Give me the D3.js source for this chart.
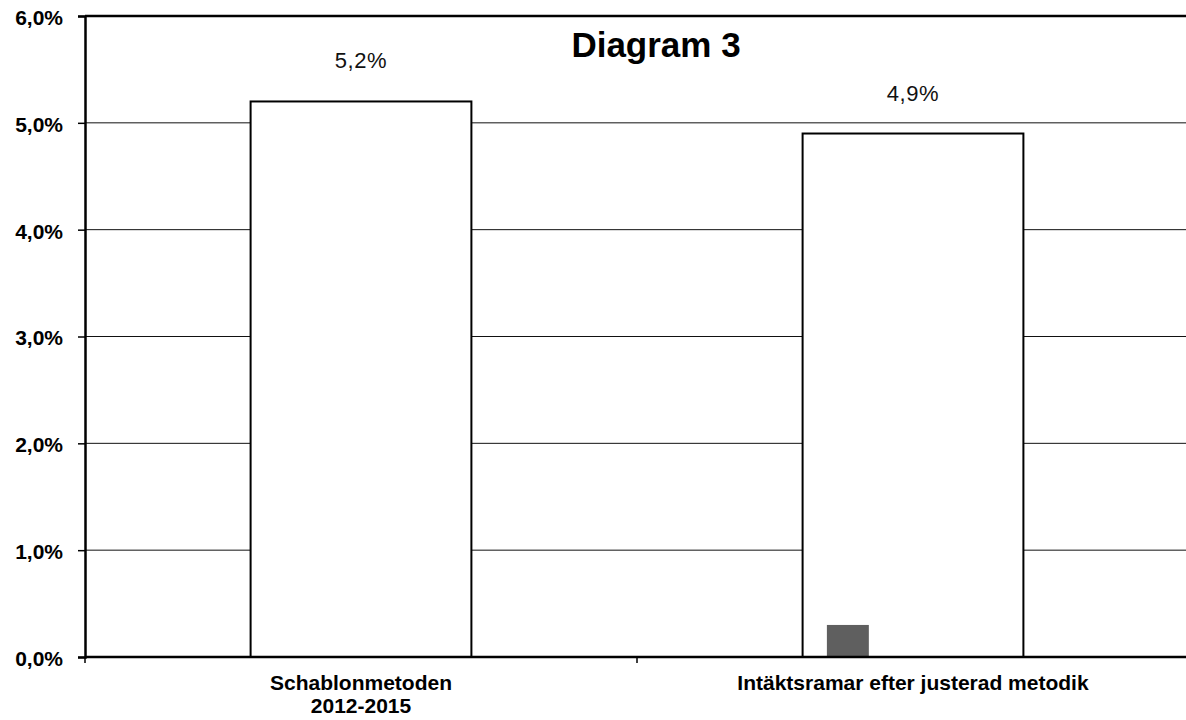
<!DOCTYPE html>
<html><head><meta charset="utf-8">
<script src="https://cdn.jsdelivr.net/npm/d3@7"></script>
<style>body{margin:0;background:#fff}svg{display:block}text{font-family:"Liberation Sans",Arial,sans-serif}</style>
</head><body><svg id="c" width="1186" height="720"></svg>
<script>
const title = "Diagram 3";
const categories = ["Schablonmetoden\n2012-2015", "Intäktsramar efter justerad metodik"];
const values = [5.2, 4.9];
const valueLabels = ["5,2%", "4,9%"];
const yTicks = [0, 1, 2, 3, 4, 5, 6];
const yTickLabels = ["0,0%", "1,0%", "2,0%", "3,0%", "4,0%", "5,0%", "6,0%"];

const svg = d3.select("#c");
const L = 85, R = 1189, T = 16, B = 657;
const x = d3.scaleBand().domain(categories).range([L, R]).paddingInner(0.6).paddingOuter(0.3);
const y = d3.scaleLinear().domain([0, 6]).range([B, T]);

// gridlines
svg.append("g").selectAll("line").data(yTicks.filter(d => d > 0 && d < 6)).join("line")
  .attr("x1", L).attr("x2", R).attr("y1", d => y(d)).attr("y2", d => y(d))
  .attr("stroke", "#111").attr("stroke-width", 1);
// top border
svg.append("line").attr("x1", L).attr("x2", R).attr("y1", y(6)).attr("y2", y(6)).attr("stroke", "#000").attr("stroke-width", 2.5);

// bars
svg.append("g").selectAll("rect").data(categories).join("rect")
  .attr("x", d => x(d)).attr("width", x.bandwidth())
  .attr("y", (d, i) => y(values[i])).attr("height", (d, i) => y(0) - y(values[i]))
  .attr("fill", "#fff").attr("stroke", "#000").attr("stroke-width", 2);

// scan artifact square
const c2 = categories[1];
svg.append("rect").attr("x", x(c2) + x.bandwidth() * 0.11).attr("width", x.bandwidth() * 0.19)
  .attr("y", y(0.3)).attr("height", y(0) - y(0.3)).attr("fill", "#5f5f5f");

// value labels
svg.append("g").selectAll("text").data(categories).join("text")
  .attr("x", d => x(d) + x.bandwidth() / 2)
  .attr("y", (d, i) => y(values[i]) - 33)
  .attr("text-anchor", "middle").attr("font-size", 22).attr("letter-spacing", 0.6).attr("fill", "#111")
  .text((d, i) => valueLabels[i]);

// y axis
const yAxis = d3.axisLeft(y).tickValues(yTicks).tickFormat((d, i) => yTickLabels[i]).tickSize(7).tickPadding(14);
const ga = svg.append("g").attr("transform", `translate(${L},0)`).call(yAxis);
ga.select(".domain").attr("stroke", "#000").attr("stroke-width", 2.5);
ga.selectAll(".tick line").attr("stroke", "#000").attr("stroke-width", 1.5);
ga.selectAll(".tick text").attr("font-size", 21).attr("font-weight", "bold").attr("fill", "#000")
  .attr("font-family", '"Liberation Sans",Arial,sans-serif').attr("x", -22).attr("dy", "0.4em");

// x axis
const gx = svg.append("g").attr("transform", `translate(0,${B})`);
gx.append("line").attr("x1", L).attr("x2", R).attr("stroke", "#000").attr("stroke-width", 2.5);
const boundary = x(c2) - x.step() * x.paddingInner() / 2;
gx.selectAll(".tk").data([L, boundary]).join("line").attr("class", "tk")
  .attr("x1", d => d).attr("x2", d => d).attr("y1", 0).attr("y2", 6).attr("stroke", "#000").attr("stroke-width", 1.5);

gx.selectAll("text.cat").data(categories).join("text").attr("class", "cat")
  .attr("text-anchor", "middle").attr("font-size", 21).attr("font-weight", "bold").attr("fill", "#000")
  .each(function(d) {
    const lines = d.split("\n");
    const t = d3.select(this);
    lines.forEach((ln, j) => {
      t.append("tspan").attr("x", x(d) + x.bandwidth() / 2).attr("y", 33 + j * 23).text(ln);
    });
  });

// title
svg.append("text").attr("x", 656).attr("y", 57).attr("text-anchor", "middle")
  .attr("font-size", 35).attr("font-weight", "bold").attr("fill", "#000").text(title);
</script></body></html>
